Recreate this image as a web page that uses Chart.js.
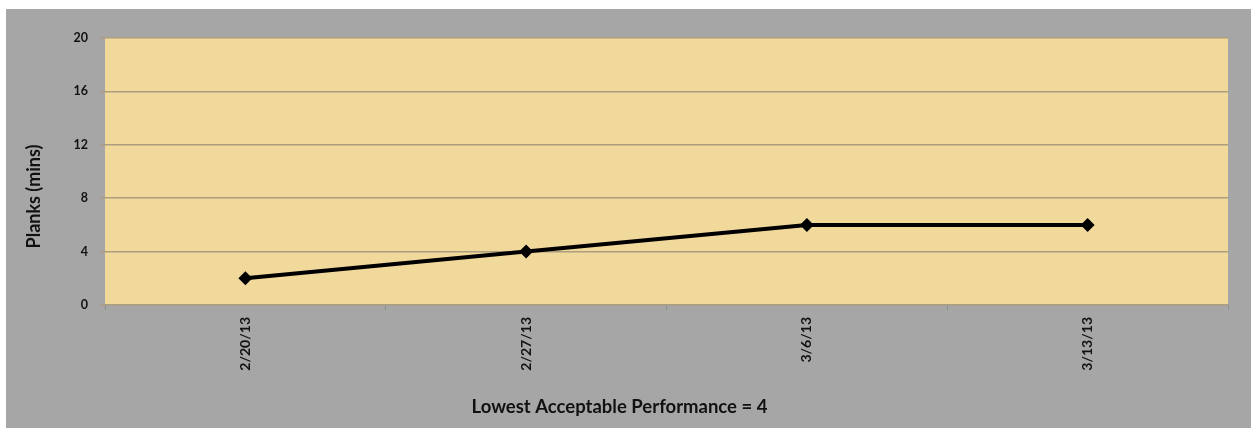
<!DOCTYPE html>
<html>
<head>
<meta charset="utf-8">
<title>Planks (mins)</title>
<script src="https://cdn.jsdelivr.net/npm/chart.js@4/dist/chart.umd.min.js"></script>
<style>
  html, body { margin: 0; padding: 0; background: #ffffff; width: 1251px; height: 428px; overflow: hidden; }
  #frame { position: absolute; left: 6px; top: 9px; width: 1245px; height: 419px; background: #a6a6a6; }
  canvas { display: block; }
</style>
</head>
<body>
<div id="frame"><canvas id="chart" width="1245" height="419"></canvas></div>
<script>
// Weekly plank results
const sessionDates = ['2/20/13', '2/27/13', '3/6/13', '3/13/13'];
const plankMinutes = [2, 4, 6, 6];
const yTickValues = [0, 4, 8, 12, 16, 20];

const yAxisTitle = 'Planks (mins)';
const xAxisTitle = 'Lowest Acceptable Performance = 4';

const FONT = 'Lato, "Open Sans", "DejaVu Sans", sans-serif';

// Fills the plotting area with the tan background
const plotBackground = {
  id: 'plotBackground',
  beforeDraw(chart) {
    const { ctx, chartArea: a } = chart;
    ctx.save();
    ctx.fillStyle = '#f1d99c';
    ctx.fillRect(a.left, a.top, a.right - a.left, a.bottom - a.top);
    ctx.restore();
  }
};

// Axis captions
const axisCaptions = {
  id: 'axisCaptions',
  afterDraw(chart) {
    const { ctx, chartArea: a } = chart;
    ctx.save();
    ctx.fillStyle = '#111111';
    ctx.textAlign = 'center';
    ctx.textBaseline = 'middle';

    ctx.font = 'bold 18px ' + FONT;
    ctx.translate(28, (a.top + a.bottom) / 2 + 25);
    ctx.rotate(-Math.PI / 2);
    ctx.fillText(yAxisTitle, 0, 0);
    ctx.setTransform(1, 0, 0, 1, 0, 0);

    ctx.font = 'bold 18.5px ' + FONT;
    ctx.fillText(xAxisTitle, chart.width / 2 - 9, 398);
    ctx.restore();
  }
};

new Chart(document.getElementById('chart'), {
  type: 'line',
  data: {
    labels: sessionDates,
    datasets: [{
      label: yAxisTitle,
      data: plankMinutes,
      borderColor: '#000000',
      backgroundColor: '#000000',
      borderWidth: 4,
      tension: 0,
      pointStyle: 'rectRot',
      pointRadius: 7,
      pointHoverRadius: 7,
      pointBorderWidth: 0
    }]
  },
  options: {
    responsive: false,
    devicePixelRatio: 1,
    animation: false,
    events: [],
    layout: { padding: { top: 29, right: 23, left: 0, bottom: 0 } },
    plugins: {
      legend: { display: false },
      tooltip: { enabled: false }
    },
    scales: {
      y: {
        min: yTickValues[0],
        max: yTickValues[yTickValues.length - 1],
        afterBuildTicks(scale) {
          scale.ticks = yTickValues.map(v => ({ value: v }));
        },
        afterFit(scale) { scale.width = 99; },
        border: { display: false },
        grid: { color: '#ab9d7e', lineWidth: 1.5, tickLength: 4 },
        ticks: {
          padding: 13,
          color: '#111111',
          font: { family: FONT, size: 12.5, weight: 'bold' }
        }
      },
      x: {
        offset: true,
        afterFit(scale) { scale.height = 123; },
        border: { display: false },
        grid: { offset: true, drawOnChartArea: false, color: '#8f8f8f', tickLength: 5 },
        ticks: {
          minRotation: 90,
          maxRotation: 90,
          padding: 7,
          color: '#111111',
          font: { family: FONT, size: 14, weight: 'bold' }
        }
      }
    }
  },
  plugins: [plotBackground, axisCaptions]
});
</script>
</body>
</html>
